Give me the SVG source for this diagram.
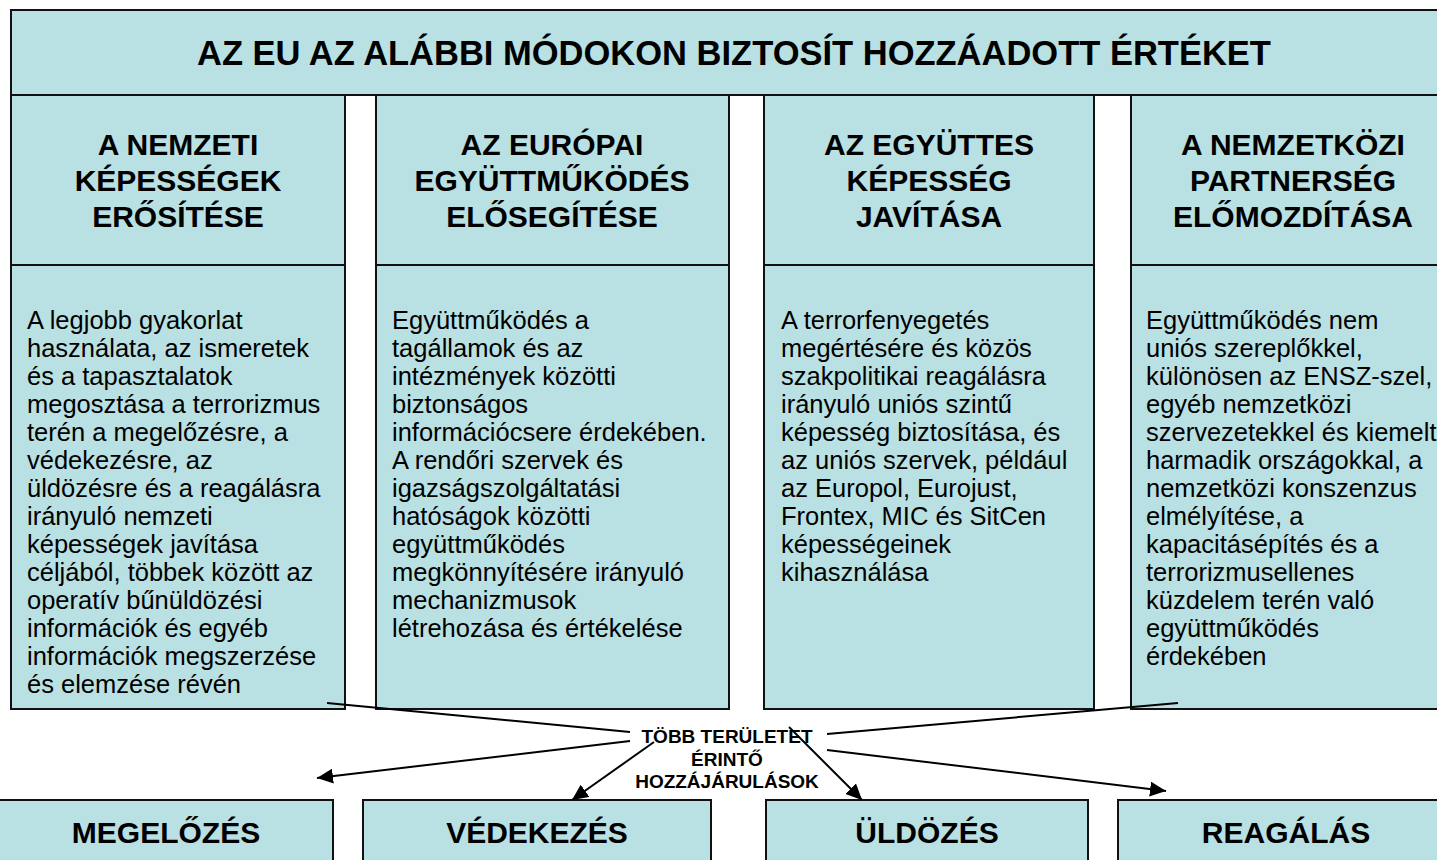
<svg xmlns="http://www.w3.org/2000/svg" width="1437" height="860" viewBox="0 0 1437 860">
<defs>
<style>
.box{fill:#B9E0E3;stroke:#111;stroke-width:2}
.t{font-family:"Liberation Sans",Arial,sans-serif;fill:#000}
.title{font-size:34.5px;font-weight:bold;text-anchor:middle}
.hd{font-size:30px;font-weight:bold;text-anchor:middle}
.bd{font-size:25.5px}
.bt{font-size:30px;font-weight:bold;text-anchor:middle}
.lbl{font-size:19px;font-weight:bold;text-anchor:middle}
.ln{stroke:#000;stroke-width:2;fill:none}
</style>
<marker id="ah" markerUnits="userSpaceOnUse" markerWidth="17" markerHeight="15" refX="16" refY="7.5" orient="auto">
<path d="M0,0 L16,7.5 L0,15 Z" fill="#000"/>
</marker>
</defs>
<rect width="1437" height="860" fill="#fff"/>

<g id="banner">
<rect class="box" x="11" y="10" width="1450" height="85"/>
<text class="t title" x="734" y="65">AZ EU AZ ALÁBBI MÓDOKON BIZTOSÍT HOZZÁADOTT ÉRTÉKET</text>
</g>

<g id="col1">
<rect class="box" x="11" y="95" width="334" height="170"/>
<text class="t hd" x="178" y="155">A NEMZETI</text>
<text class="t hd" x="178" y="191">KÉPESSÉGEK</text>
<text class="t hd" x="178" y="227">ERŐSÍTÉSE</text>
<rect class="box" x="11" y="265" width="334" height="444"/>
<text class="t bd" x="27" y="329">
<tspan x="27">A legjobb gyakorlat</tspan>
<tspan x="27" dy="28">használata, az ismeretek</tspan>
<tspan x="27" dy="28">és a tapasztalatok</tspan>
<tspan x="27" dy="28">megosztása a terrorizmus</tspan>
<tspan x="27" dy="28">terén a megelőzésre, a</tspan>
<tspan x="27" dy="28">védekezésre, az</tspan>
<tspan x="27" dy="28">üldözésre és a reagálásra</tspan>
<tspan x="27" dy="28">irányuló nemzeti</tspan>
<tspan x="27" dy="28">képességek javítása</tspan>
<tspan x="27" dy="28">céljából, többek között az</tspan>
<tspan x="27" dy="28">operatív bűnüldözési</tspan>
<tspan x="27" dy="28">információk és egyéb</tspan>
<tspan x="27" dy="28">információk megszerzése</tspan>
<tspan x="27" dy="28">és elemzése révén</tspan>
</text>
</g>

<g id="col2">
<rect class="box" x="376" y="95" width="353" height="170"/>
<text class="t hd" x="552" y="155">AZ EURÓPAI</text>
<text class="t hd" x="552" y="191">EGYÜTTMŰKÖDÉS</text>
<text class="t hd" x="552" y="227">ELŐSEGÍTÉSE</text>
<rect class="box" x="376" y="265" width="353" height="444"/>
<text class="t bd" x="392" y="329">
<tspan x="392">Együttműködés a</tspan>
<tspan x="392" dy="28">tagállamok és az</tspan>
<tspan x="392" dy="28">intézmények közötti</tspan>
<tspan x="392" dy="28">biztonságos</tspan>
<tspan x="392" dy="28">információcsere érdekében.</tspan>
<tspan x="392" dy="28">A rendőri szervek és</tspan>
<tspan x="392" dy="28">igazságszolgáltatási</tspan>
<tspan x="392" dy="28">hatóságok közötti</tspan>
<tspan x="392" dy="28">együttműködés</tspan>
<tspan x="392" dy="28">megkönnyítésére irányuló</tspan>
<tspan x="392" dy="28">mechanizmusok</tspan>
<tspan x="392" dy="28">létrehozása és értékelése</tspan>
</text>
</g>

<g id="col3">
<rect class="box" x="764" y="95" width="330" height="170"/>
<text class="t hd" x="929" y="155">AZ EGYÜTTES</text>
<text class="t hd" x="929" y="191">KÉPESSÉG</text>
<text class="t hd" x="929" y="227">JAVÍTÁSA</text>
<rect class="box" x="764" y="265" width="330" height="444"/>
<text class="t bd" x="781" y="329">
<tspan x="781">A terrorfenyegetés</tspan>
<tspan x="781" dy="28">megértésére és közös</tspan>
<tspan x="781" dy="28">szakpolitikai reagálásra</tspan>
<tspan x="781" dy="28">irányuló uniós szintű</tspan>
<tspan x="781" dy="28">képesség biztosítása, és</tspan>
<tspan x="781" dy="28">az uniós szervek, például</tspan>
<tspan x="781" dy="28">az Europol, Eurojust,</tspan>
<tspan x="781" dy="28">Frontex, MIC és SitCen</tspan>
<tspan x="781" dy="28">képességeinek</tspan>
<tspan x="781" dy="28">kihasználása</tspan>
</text>
</g>

<g id="col4">
<rect class="box" x="1131" y="95" width="324" height="170"/>
<text class="t hd" x="1293" y="155">A NEMZETKÖZI</text>
<text class="t hd" x="1293" y="191">PARTNERSÉG</text>
<text class="t hd" x="1293" y="227">ELŐMOZDÍTÁSA</text>
<rect class="box" x="1131" y="265" width="324" height="444"/>
<text class="t bd" x="1146" y="329">
<tspan x="1146">Együttműködés nem</tspan>
<tspan x="1146" dy="28">uniós szereplőkkel,</tspan>
<tspan x="1146" dy="28">különösen az ENSZ-szel,</tspan>
<tspan x="1146" dy="28">egyéb nemzetközi</tspan>
<tspan x="1146" dy="28">szervezetekkel és kiemelt</tspan>
<tspan x="1146" dy="28">harmadik országokkal, a</tspan>
<tspan x="1146" dy="28">nemzetközi konszenzus</tspan>
<tspan x="1146" dy="28">elmélyítése, a</tspan>
<tspan x="1146" dy="28">kapacitásépítés és a</tspan>
<tspan x="1146" dy="28">terrorizmusellenes</tspan>
<tspan x="1146" dy="28">küzdelem terén való</tspan>
<tspan x="1146" dy="28">együttműködés</tspan>
<tspan x="1146" dy="28">érdekében</tspan>
</text>
</g>

<g id="megelozes">
<rect class="box" x="-1" y="800" width="334" height="80"/>
<text class="t bt" x="166" y="843">MEGELŐZÉS</text>
</g>
<g id="vedekezes">
<rect class="box" x="363" y="800" width="348" height="80"/>
<text class="t bt" x="537" y="843">VÉDEKEZÉS</text>
</g>
<g id="uldozes">
<rect class="box" x="766" y="800" width="322" height="80"/>
<text class="t bt" x="927" y="843">ÜLDÖZÉS</text>
</g>
<g id="reagalas">
<rect class="box" x="1118" y="800" width="336" height="80"/>
<text class="t bt" x="1286" y="843">REAGÁLÁS</text>
</g>

<g id="hub">
<text class="t lbl" x="727" y="743">TÖBB TERÜLETET</text>
<text class="t lbl" x="727" y="765.5">ÉRINTŐ</text>
<text class="t lbl" x="727" y="788">HOZZÁJÁRULÁSOK</text>
</g>

<g id="connectors">
<line class="ln" x1="327" y1="703" x2="630" y2="732"/>
<line class="ln" x1="630" y1="741" x2="317" y2="778" marker-end="url(#ah)"/>
<line class="ln" x1="654" y1="742" x2="572" y2="800" marker-end="url(#ah)"/>
<line class="ln" x1="789" y1="727" x2="862" y2="800" marker-end="url(#ah)"/>
<line class="ln" x1="827" y1="750" x2="1166" y2="791" marker-end="url(#ah)"/>
<line class="ln" x1="827" y1="734" x2="1178" y2="703"/>
</g>
</svg>
